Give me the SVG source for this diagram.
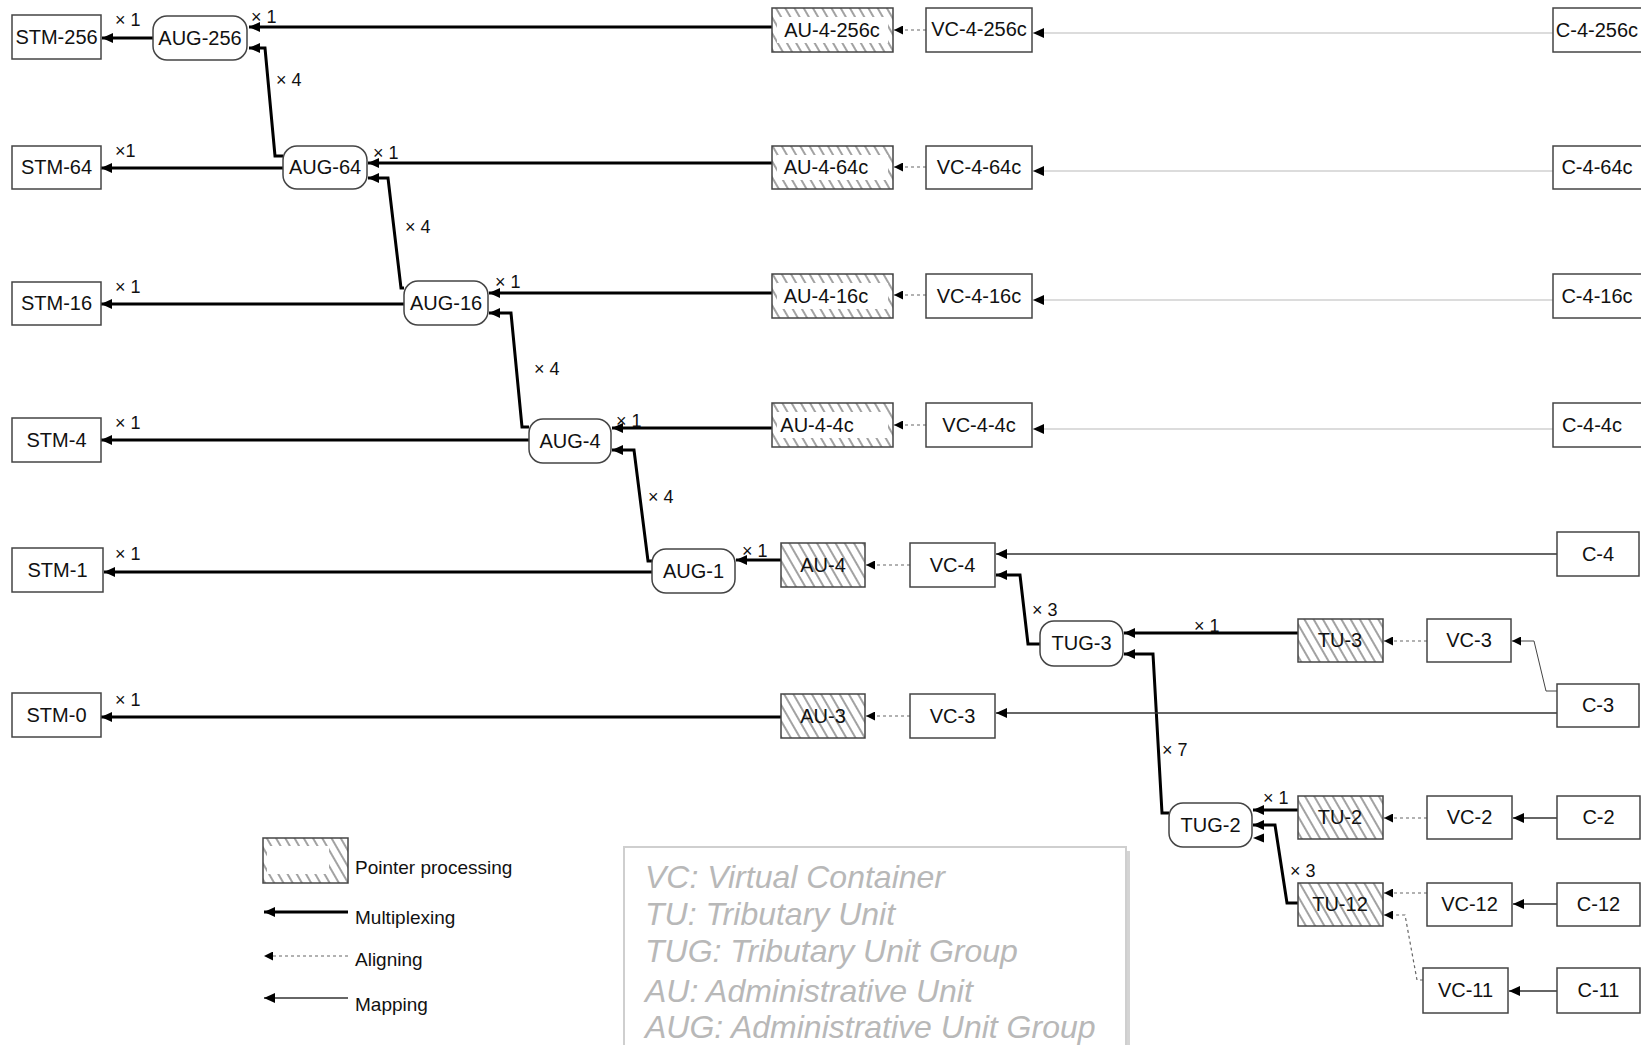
<svg xmlns="http://www.w3.org/2000/svg" width="1641" height="1045" viewBox="0 0 1641 1045">
<style>
  .box { fill: #fff; stroke: #444; stroke-width: 1.5; }
  .hbox { fill: url(#hatch); stroke: #444; stroke-width: 1.5; }
  .inner { fill: #fff; stroke: none; }
  .lbl { font-family: "Liberation Sans", Arial, sans-serif; font-size: 20px; fill: #111; text-anchor: middle; }
  .mult { font-family: "Liberation Sans", Arial, sans-serif; font-size: 18px; fill: #111; }
  .leg { font-family: "Liberation Sans", Arial, sans-serif; font-size: 19px; fill: #111; }
  .abbr { font-family: "Liberation Sans", Arial, sans-serif; font-size: 32px; font-style: italic; fill: #b8b8b8; }
  .mux { fill: none; stroke: #000; stroke-width: 3; marker-end: url(#ah); }
  .map { fill: none; stroke: #333; stroke-width: 1.5; marker-end: url(#ah); }
  .thin { fill: none; stroke: #444; stroke-width: 1; marker-end: url(#ahs); }
  .lite { fill: none; stroke: #dcdcdc; stroke-width: 2; marker-end: url(#ah); }
  .align { fill: none; stroke: #666; stroke-width: 1.2; stroke-dasharray: 3 3; marker-end: url(#ahs); }
</style>
<defs>
  <pattern id="hatch" width="8" height="8" patternUnits="userSpaceOnUse" patternTransform="rotate(-30)">
    <rect width="8" height="8" fill="#fff"/>
    <line x1="4" y1="0" x2="4" y2="8" stroke="#555" stroke-width="1.1"/>
  </pattern>
  <marker id="ah" viewBox="0 0 10 9" refX="10" refY="4.5" markerWidth="11" markerHeight="10" markerUnits="userSpaceOnUse" orient="auto">
    <path d="M0,0 L10,4.5 L0,9 z" fill="#000"/>
  </marker>
  <marker id="ahs" viewBox="0 0 8 8" refX="8" refY="4" markerWidth="9" markerHeight="9" markerUnits="userSpaceOnUse" orient="auto">
    <path d="M0,0 L8,4 L0,8 z" fill="#000"/>
  </marker>
</defs>

<g id="connectors">
  <path class="mux" d="M153,38 L102,38"/>
  <path class="mux" d="M283,168 L101,168"/>
  <path class="mux" d="M404,304 L101,304"/>
  <path class="mux" d="M529,440 L101,440"/>
  <path class="mux" d="M652,572 L104,572"/>
  <path class="mux" d="M781,717 L101,717"/>
  <path class="mux" d="M772,27 L249,27"/>
  <path class="mux" d="M772,163 L368,163"/>
  <path class="mux" d="M772,293 L489,293"/>
  <path class="mux" d="M772,428 L612,428"/>
  <path class="mux" d="M781,560 L736,560"/>
  <path class="mux" d="M283,156 L275,156 L265,48 L249,48"/>
  <path class="mux" d="M404,288 L401,288 L388,178 L368,178"/>
  <path class="mux" d="M529,427 L522,427 L511,313 L489,313"/>
  <path class="mux" d="M652,561 L648,561 L634,450 L612,450"/>
  <path class="mux" d="M1040,644 L1028,644 L1020,575 L996,575"/>
  <path class="mux" d="M1298,633 L1124,633"/>
  <path class="mux" d="M1169,813 L1162,813 L1153,654 L1124,654"/>
  <path class="mux" d="M1298,810 L1253,810"/>
  <path class="mux" d="M1298,903 L1287,903 L1275,825 L1253,825"/>
  <path class="align" d="M926,30 L894,30"/>
  <path class="align" d="M926,167 L894,167"/>
  <path class="align" d="M926,295 L894,295"/>
  <path class="align" d="M926,425 L894,425"/>
  <path class="align" d="M910,565 L866,565"/>
  <path class="align" d="M910,716 L866,716"/>
  <path class="align" d="M1427,641 L1384,641"/>
  <path class="align" d="M1427,818 L1384,818"/>
  <path class="align" d="M1427,893 L1384,893"/>
  <path class="align" d="M1423,980 L1417,980 L1405,915 L1384,915"/>
  <path class="lite" d="M1553,33 L1033,33"/>
  <path class="lite" d="M1553,171 L1033,171"/>
  <path class="lite" d="M1553,300 L1033,300"/>
  <path class="lite" d="M1553,429 L1033,429"/>
  <path class="map" d="M1557,554 L996,554"/>
  <path class="map" d="M1557,713 L996,713"/>
  <path class="thin" d="M1557,691 L1546,691 L1534,641 L1512,641"/>
  <path class="map" d="M1557,818 L1513,818"/>
  <path class="map" d="M1557,904 L1513,904"/>
  <path class="map" d="M1557,991 L1509,991"/>
  <path d="M1253,838 L1264,833.5 L1264,842.5 z" fill="#000"/>
</g>

<g id="multiplicities" class="mult">
  <text x="115" y="26">× 1</text>
  <text x="251" y="23">× 1</text>
  <text x="276" y="86">× 4</text>
  <text x="115" y="157">×1</text>
  <text x="373" y="159">× 1</text>
  <text x="405" y="233">× 4</text>
  <text x="115" y="293">× 1</text>
  <text x="495" y="288">× 1</text>
  <text x="534" y="375">× 4</text>
  <text x="115" y="429">× 1</text>
  <text x="616" y="427">× 1</text>
  <text x="648" y="503">× 4</text>
  <text x="115" y="560">× 1</text>
  <text x="742" y="557">× 1</text>
  <text x="1032" y="616">× 3</text>
  <text x="1194" y="632">× 1</text>
  <text x="115" y="706">× 1</text>
  <text x="1162" y="756">× 7</text>
  <text x="1263" y="804">× 1</text>
  <text x="1290" y="877">× 3</text>
</g>

<g id="stm-256"><rect class="box" x="12" y="15" width="89" height="44"/><text class="lbl" x="56.5" y="44">STM-256</text></g>
<g id="stm-64"><rect class="box" x="12" y="146" width="89" height="43"/><text class="lbl" x="56.5" y="174">STM-64</text></g>
<g id="stm-16"><rect class="box" x="12" y="282" width="89" height="43"/><text class="lbl" x="56.5" y="310">STM-16</text></g>
<g id="stm-4"><rect class="box" x="12" y="418" width="89" height="44"/><text class="lbl" x="56.5" y="447">STM-4</text></g>
<g id="stm-1"><rect class="box" x="12" y="548" width="91" height="44"/><text class="lbl" x="57.5" y="577">STM-1</text></g>
<g id="stm-0"><rect class="box" x="12" y="693" width="89" height="44"/><text class="lbl" x="56.5" y="722">STM-0</text></g>

<g id="aug-256"><rect class="box" x="153" y="16" width="94" height="44" rx="14"/><text class="lbl" x="200" y="45">AUG-256</text></g>
<g id="aug-64"><rect class="box" x="283" y="146" width="84" height="43" rx="14"/><text class="lbl" x="325" y="174">AUG-64</text></g>
<g id="aug-16"><rect class="box" x="404" y="281" width="84" height="44" rx="14"/><text class="lbl" x="446" y="310">AUG-16</text></g>
<g id="aug-4"><rect class="box" x="529" y="419" width="82" height="44" rx="14"/><text class="lbl" x="570" y="448">AUG-4</text></g>
<g id="aug-1"><rect class="box" x="652" y="549" width="83" height="44" rx="14"/><text class="lbl" x="693.5" y="578">AUG-1</text></g>

<g id="au-4-256c"><rect class="hbox" x="772" y="8" width="121" height="44"/><rect class="inner" x="777" y="17" width="111" height="26"/><text class="lbl" x="832" y="37">AU-4-256c</text></g>
<g id="au-4-64c"><rect class="hbox" x="772" y="146" width="121" height="43"/><rect class="inner" x="777" y="155" width="111" height="25"/><text class="lbl" x="826" y="174">AU-4-64c</text></g>
<g id="au-4-16c"><rect class="hbox" x="772" y="274" width="121" height="44"/><rect class="inner" x="777" y="283" width="111" height="26"/><text class="lbl" x="826" y="303">AU-4-16c</text></g>
<g id="au-4-4c"><rect class="hbox" x="772" y="403" width="121" height="44"/><rect class="inner" x="777" y="412" width="111" height="26"/><text class="lbl" x="817" y="432">AU-4-4c</text></g>
<g id="au-4"><rect class="hbox" x="781" y="543" width="84" height="44"/><text class="lbl" x="823" y="572">AU-4</text></g>
<g id="au-3"><rect class="hbox" x="781" y="694" width="84" height="44"/><text class="lbl" x="823" y="723">AU-3</text></g>

<g id="vc-4-256c"><rect class="box" x="926" y="8" width="106" height="44"/><text class="lbl" x="979" y="36">VC-4-256c</text></g>
<g id="vc-4-64c"><rect class="box" x="926" y="146" width="106" height="43"/><text class="lbl" x="979" y="174">VC-4-64c</text></g>
<g id="vc-4-16c"><rect class="box" x="926" y="274" width="106" height="44"/><text class="lbl" x="979" y="303">VC-4-16c</text></g>
<g id="vc-4-4c"><rect class="box" x="926" y="403" width="106" height="44"/><text class="lbl" x="979" y="432">VC-4-4c</text></g>
<g id="vc-4"><rect class="box" x="910" y="543" width="85" height="44"/><text class="lbl" x="952.5" y="572">VC-4</text></g>
<g id="vc-3-au"><rect class="box" x="910" y="694" width="85" height="44"/><text class="lbl" x="952.5" y="723">VC-3</text></g>

<g id="c-4-256c"><rect class="box" x="1553" y="8" width="100" height="44"/><text class="lbl" x="1597" y="37">C-4-256c</text></g>
<g id="c-4-64c"><rect class="box" x="1553" y="146" width="100" height="43"/><text class="lbl" x="1597" y="174">C-4-64c</text></g>
<g id="c-4-16c"><rect class="box" x="1553" y="274" width="100" height="44"/><text class="lbl" x="1597" y="303">C-4-16c</text></g>
<g id="c-4-4c"><rect class="box" x="1553" y="403" width="100" height="44"/><text class="lbl" x="1592" y="432">C-4-4c</text></g>
<g id="c-4"><rect class="box" x="1557" y="532" width="82" height="44"/><text class="lbl" x="1598" y="561">C-4</text></g>
<g id="c-3"><rect class="box" x="1557" y="684" width="82" height="43"/><text class="lbl" x="1598" y="712">C-3</text></g>

<g id="tug-3"><rect class="box" x="1040" y="621" width="83" height="45" rx="14"/><text class="lbl" x="1081.5" y="650">TUG-3</text></g>
<g id="tu-3"><rect class="hbox" x="1298" y="619" width="85" height="43"/><text class="lbl" x="1340" y="647">TU-3</text></g>
<g id="vc-3-tu"><rect class="box" x="1427" y="619" width="84" height="43"/><text class="lbl" x="1469" y="647">VC-3</text></g>
<g id="tug-2"><rect class="box" x="1169" y="803" width="83" height="44" rx="14"/><text class="lbl" x="1210.5" y="832">TUG-2</text></g>
<g id="tu-2"><rect class="hbox" x="1298" y="796" width="85" height="43"/><text class="lbl" x="1340" y="824">TU-2</text></g>
<g id="tu-12"><rect class="hbox" x="1298" y="883" width="85" height="43"/><text class="lbl" x="1340" y="911">TU-12</text></g>
<g id="vc-2"><rect class="box" x="1427" y="796" width="85" height="43"/><text class="lbl" x="1469.5" y="824">VC-2</text></g>
<g id="vc-12"><rect class="box" x="1427" y="883" width="85" height="43"/><text class="lbl" x="1469.5" y="911">VC-12</text></g>
<g id="vc-11"><rect class="box" x="1423" y="968" width="85" height="45"/><text class="lbl" x="1465.5" y="997">VC-11</text></g>
<g id="c-2"><rect class="box" x="1557" y="796" width="83" height="43"/><text class="lbl" x="1598.5" y="824">C-2</text></g>
<g id="c-12"><rect class="box" x="1557" y="883" width="83" height="43"/><text class="lbl" x="1598.5" y="911">C-12</text></g>
<g id="c-11"><rect class="box" x="1557" y="968" width="83" height="45"/><text class="lbl" x="1598.5" y="997">C-11</text></g>

<g id="legend">
  <rect class="hbox" x="263" y="838" width="85" height="45"/>
  <rect class="inner" x="267" y="846" width="62" height="28"/>
  <text class="leg" x="355" y="874">Pointer processing</text>
  <path class="mux" d="M348,912 L264,912"/>
  <text class="leg" x="355" y="924">Multiplexing</text>
  <path class="align" d="M348,956 L264,956"/>
  <text class="leg" x="355" y="966">Aligning</text>
  <path class="map" d="M348,998 L264,998"/>
  <text class="leg" x="355" y="1011">Mapping</text>
</g>

<g id="abbreviations">
  <rect x="628" y="851" width="502" height="220" fill="#d4d4d4"/>
  <rect x="624" y="847" width="502" height="220" fill="#fff" stroke="#cfcfcf" stroke-width="2"/>
  <text class="abbr" x="645" y="888">VC: Virtual Container</text>
  <text class="abbr" x="645" y="925">TU: Tributary Unit</text>
  <text class="abbr" x="645" y="962">TUG: Tributary Unit Group</text>
  <text class="abbr" x="645" y="1002">AU: Administrative Unit</text>
  <text class="abbr" x="645" y="1038">AUG: Administrative Unit Group</text>
</g>
</svg>
